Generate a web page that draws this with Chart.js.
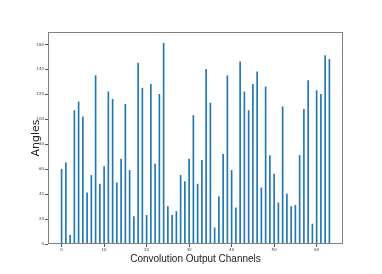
<!DOCTYPE html>
<html>
<head>
<meta charset="utf-8">
<script src="https://cdn.jsdelivr.net/npm/chart.js@4.4.0/dist/chart.umd.min.js"></script>
<style>
    html, body { margin: 0; padding: 0; background: #fff; }
    #wrap { width: 382px; height: 274px; }
</style>
</head>
<body>
<div id="wrap"><canvas id="anglesChart" width="382" height="274"></canvas></div>
<script>
// Data
const channels = [0, 1, 2, 3, 4, 5, 6, 7, 8, 9, 10, 11, 12, 13, 14, 15,
                  16, 17, 18, 19, 20, 21, 22, 23, 24, 25, 26, 27, 28, 29, 30, 31,
                  32, 33, 34, 35, 36, 37, 38, 39, 40, 41, 42, 43, 44, 45, 46, 47,
                  48, 49, 50, 51, 52, 53, 54, 55, 56, 57, 58, 59, 60, 61, 62, 63];
const angles = [60, 65, 7, 107, 114, 102, 41, 55, 135, 48, 62, 122, 116, 49, 68, 112,
                59, 22, 145, 125, 23, 128, 64, 120, 161, 30, 23, 26, 55, 50, 68, 103,
                48, 67, 140, 113, 13, 38, 72, 135, 59, 29, 146, 122, 107, 128, 138, 45,
                126, 71, 56, 33, 110, 40, 30, 31, 71, 108, 131, 16, 123, 120, 151, 148];
const xTicks = [0, 10, 20, 30, 40, 50, 60];
const yTicks = [0, 20, 40, 60, 80, 100, 120, 140, 160];

const barColor = '#1f77b4';

// Box around the plot area (matplotlib spines)
const frameBox = {
    id: 'frameBox',
    afterDraw(chart) {
        const { ctx, chartArea: a } = chart;
        ctx.save();
        ctx.strokeStyle = '#808080';
        ctx.lineWidth = 1;
        ctx.strokeRect(a.left + 0.5, a.top + 0.5, a.right - a.left - 1, a.bottom - a.top - 1);
        ctx.restore();
    }
};

const tickFont = { family: 'DejaVu Sans', size: 4 };

const ctx = document.getElementById('anglesChart').getContext('2d');
new Chart(ctx, {
    type: 'bar',
    data: {
        datasets: [{
            data: channels.map((c, i) => ({ x: c, y: angles[i] })),
            backgroundColor: barColor,
            barThickness: 1
        }]
    },
    options: {
        responsive: false,
        animation: false,
        devicePixelRatio: 1,
        layout: { padding: { top: 32, right: 39, left: 0, bottom: 0 } },
        plugins: { legend: { display: false }, tooltip: { enabled: false } },
        scales: {
            x: {
                type: 'linear',
                min: -3.2,
                max: 66.2,
                offset: false,
                afterBuildTicks: s => { s.ticks = xTicks.map(v => ({ value: v })); },
                afterFit: s => { s.height = 30; },
                grid: { offset: false, drawOnChartArea: false, tickLength: 3, color: '#555' },
                border: { display: false },
                ticks: { font: tickFont, color: '#444', padding: 1, maxRotation: 0 },
                title: {
                    display: true,
                    text: 'Convolution Output Channels',
                    font: { family: 'Liberation Sans Narrow, Liberation Sans', size: 10 },
                    color: '#222',
                    padding: { top: 0, bottom: 9 }
                }
            },
            y: {
                min: 0,
                max: 170,
                afterBuildTicks: s => { s.ticks = yTicks.map(v => ({ value: v })); },
                afterFit: s => { s.width = 48; },
                grid: { drawOnChartArea: false, tickLength: 3, color: '#555' },
                border: { display: false },
                ticks: { font: tickFont, color: '#444', padding: 1 },
                title: {
                    display: true,
                    text: 'Angles',
                    font: { family: 'DejaVu Sans', size: 11 },
                    color: '#222',
                    padding: { top: 30, bottom: 0 }
                }
            }
        }
    },
    plugins: [frameBox]
});
</script>
</body>
</html>
